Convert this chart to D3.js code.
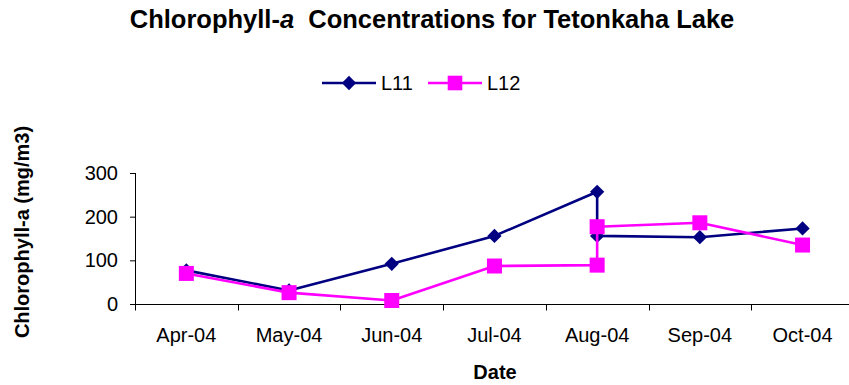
<!DOCTYPE html>
<html>
<head>
<meta charset="utf-8">
<script src="https://cdn.jsdelivr.net/npm/d3@7"></script>
<style>
  html, body { margin: 0; padding: 0; background: #fff; }
  svg { display: block; font-family: "Liberation Sans", Arial, sans-serif; }
</style>
</head>
<body>
<svg id="chart" width="849" height="385"></svg>
<script>
// Sampling dates (August was sampled twice) and chlorophyll-a values in mg/m3
const categories = ["Apr-04", "May-04", "Jun-04", "Jul-04", "Aug-04", "Sep-04", "Oct-04"];
const sampleDates = ["Apr-04", "May-04", "Jun-04", "Jul-04", "Aug-04", "Aug-04", "Sep-04", "Oct-04"];
const L11 = [77, 31, 92, 156, 257, 156, 153, 173];
const L12 = [70, 26, 8, 87, 89, 177, 186, 135];
const yTicks = [0, 100, 200, 300];
const seriesNames = ["L11", "L12"];
const seriesColors = ["#000080", "#FF00FF"];

const svg = d3.select("#chart");
const plotLeft = 135, plotTop = 173, plotBottom = 304;
const band = 102.7;

const x = d3.scaleBand().domain(categories).range([plotLeft, plotLeft + band * categories.length]).padding(0);
const y = d3.scaleLinear().domain([0, 300]).range([plotBottom, plotTop]);
const cx = d => x(d) + x.bandwidth() / 2;

// Title
const title = svg.append("text")
  .attr("x", 432).attr("y", 28)
  .attr("text-anchor", "middle")
  .attr("font-size", 25.5).attr("font-weight", "bold")
  .style("white-space", "pre");
title.append("tspan").text("Chlorophyll-");
title.append("tspan").attr("font-style", "italic").text("a");
title.append("tspan").text("  Concentrations for Tetonkaha Lake");

// Legend
const legend = svg.append("g");
const legendItems = [
  { name: seriesNames[0], color: seriesColors[0], x0: 322, shape: "diamond" },
  { name: seriesNames[1], color: seriesColors[1], x0: 428, shape: "square" }
];
legendItems.forEach(it => {
  const g = legend.append("g").attr("transform", `translate(${it.x0},83)`);
  g.append("line").attr("x1", 0).attr("x2", 54).attr("y1", 0).attr("y2", 0)
    .attr("stroke", it.color).attr("stroke-width", 2.5);
  if (it.shape === "diamond") {
    g.append("path").attr("d", d3.symbol(d3.symbolDiamond2, 130)()).attr("transform", "translate(27,0)")
      .attr("fill", it.color);
  } else {
    g.append("rect").attr("x", 27 - 7.3).attr("y", -7.3).attr("width", 14.6).attr("height", 14.6).attr("fill", it.color);
  }
  g.append("text").attr("x", 59).attr("y", 7).attr("font-size", 20).text(it.name);
});

// Y axis
const yAxis = svg.append("g").attr("transform", `translate(${plotLeft},0)`)
  .call(d3.axisLeft(y).tickValues(yTicks).tickSize(5).tickPadding(12).tickFormat(d3.format("d")));
yAxis.select(".domain").attr("stroke", "#000").attr("stroke-width", 1).attr("d", `M0.5,${plotTop}V${plotBottom}`);
yAxis.selectAll(".tick line").attr("stroke", "#000");
yAxis.selectAll(".tick text").attr("font-size", 20).attr("fill", "#000").attr("font-family", null);

// X axis line with ticks at the category boundaries
const xg = svg.append("g");
xg.append("line").attr("x1", plotLeft).attr("x2", 849).attr("y1", plotBottom + 0.5).attr("y2", plotBottom + 0.5)
  .attr("stroke", "#000").attr("stroke-width", 1);
xg.selectAll("line.bt").data(categories).join("line").attr("class", "bt")
  .attr("x1", d => Math.round(x(d)) + 0.5).attr("x2", d => Math.round(x(d)) + 0.5)
  .attr("y1", plotBottom).attr("y2", plotBottom + 6.5).attr("stroke", "#000");
xg.selectAll("text").data(categories).join("text")
  .attr("x", d => cx(d)).attr("y", 342).attr("text-anchor", "middle")
  .attr("font-size", 20).text(d => d);

// Axis titles
svg.append("text").attr("x", 495).attr("y", 379).attr("text-anchor", "middle")
  .attr("font-size", 20).attr("font-weight", "bold").text("Date");
svg.append("text").attr("transform", "translate(29,232) rotate(-90)").attr("text-anchor", "middle")
  .attr("font-size", 20).attr("font-weight", "bold").text("Chlorophyll-a (mg/m3)");

// Series
const line = d3.line().x((d, i) => cx(sampleDates[i])).y(d => y(d));
[L11, L12].forEach((vals, s) => {
  const color = seriesColors[s];
  svg.append("path").datum(vals).attr("d", line).attr("fill", "none")
    .attr("stroke", color).attr("stroke-width", 2.6).attr("stroke-linejoin", "round");
  const pts = svg.append("g").selectAll("g").data(vals).join("g")
    .attr("transform", (d, i) => `translate(${cx(sampleDates[i])},${y(d)})`);
  if (s === 0) {
    pts.append("path").attr("d", d3.symbol(d3.symbolDiamond2, 130)()).attr("fill", color);
  } else {
    pts.append("rect").attr("x", -7.5).attr("y", -7.5).attr("width", 15).attr("height", 15).attr("fill", color);
  }
});
</script>
</body>
</html>
